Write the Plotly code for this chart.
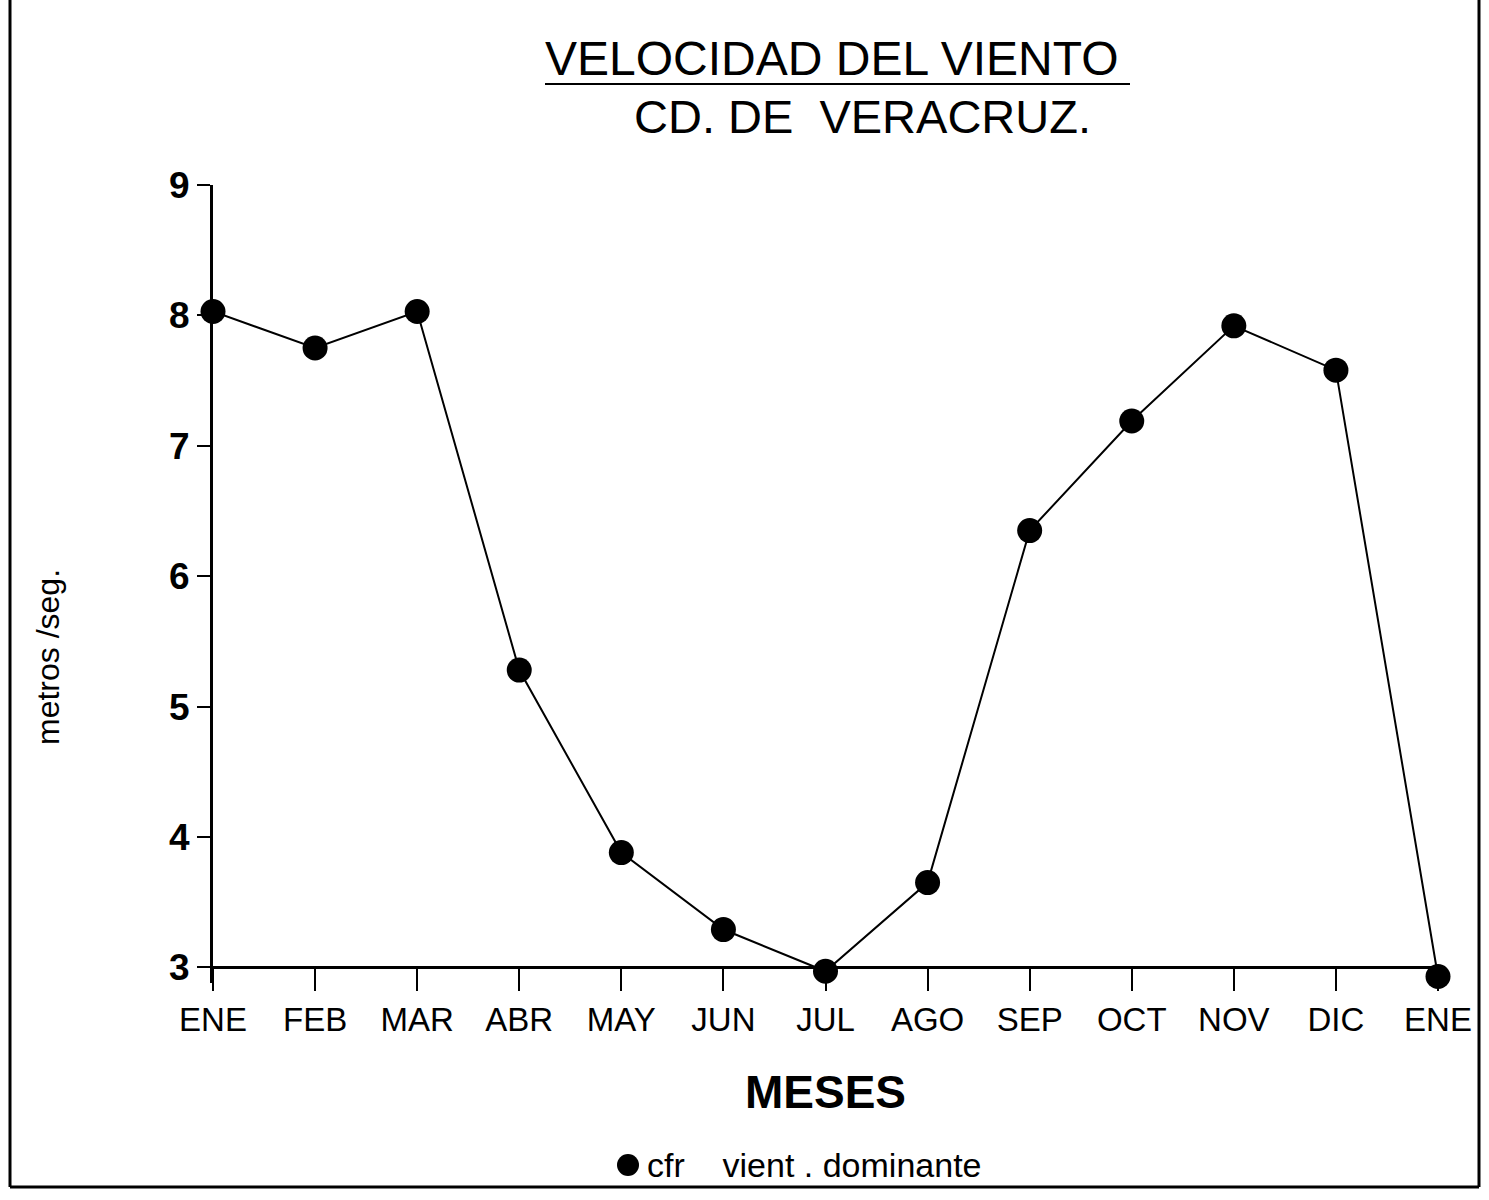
import plotly.graph_objects as go

# Monthly wind speed, Veracruz (m/s)
meses = ["ENE", "FEB", "MAR", "ABR", "MAY", "JUN", "JUL",
         "AGO", "SEP", "OCT", "NOV", "DIC", "ENE"]
velocidad = [8.03, 7.75, 8.03, 5.28, 3.88, 3.29, 2.97,
             3.65, 6.35, 7.19, 7.92, 7.58, 2.93]
y_ticks = [3, 4, 5, 6, 7, 8, 9]

x_pos = list(range(len(meses)))

SANS = "Liberation Sans, Arial, sans-serif"

# plot area geometry (pixels)
W, H = 1489, 1200
L, T, PW, PH = 213, 185, 1225, 798
Y_MIN, Y_MAX = 2.88, 9.0


def px(xp):
    return (xp - L) / PW


def py(yp):
    return (T + PH - yp) / PH


fig = go.Figure()

# connecting line
fig.add_trace(go.Scatter(
    x=x_pos, y=velocidad, mode="lines",
    line=dict(color="black", width=2),
    showlegend=False, hoverinfo="skip", cliponaxis=False,
))
# monthly points
fig.add_trace(go.Scatter(
    x=x_pos, y=velocidad, mode="markers",
    marker=dict(color="black", size=25),
    name="cfr vient. dominante", showlegend=False,
    cliponaxis=False,
))

fig.update_layout(
    width=W, height=H,
    margin=dict(l=L, r=W - L - PW, t=T, b=H - T - PH),
    paper_bgcolor="white", plot_bgcolor="white",
    showlegend=False,
    xaxis=dict(
        range=[0, 12],
        anchor="free", position=(3 - Y_MIN) / (Y_MAX - Y_MIN),
        tickmode="array", tickvals=x_pos, ticktext=meses,
        showline=True, linecolor="black", linewidth=3,
        ticks="outside", ticklen=22, tickwidth=2, tickcolor="black",
        tickfont=dict(family=SANS, size=33, color="black"),
        showgrid=False, zeroline=False,
        title=dict(text="<b>MESES</b>", standoff=38,
                   font=dict(family=SANS, size=46, color="black")),
    ),
    yaxis=dict(
        range=[Y_MIN, Y_MAX], domain=[0, 1],
        tickmode="array", tickvals=y_ticks,
        showline=True, linecolor="black", linewidth=3,
        ticks="outside", ticklen=13, tickwidth=2, tickcolor="black",
        tickfont=dict(family=SANS, size=37, color="black", weight="bold"),
        showgrid=False, zeroline=False,
    ),
)

# y-axis title
fig.add_annotation(
    text="metros /seg.", xref="paper", yref="paper",
    x=px(48), y=py(657), textangle=-90,
    xanchor="center", yanchor="middle", showarrow=False,
    font=dict(family=SANS, size=32, color="black"),
)

# title block
fig.add_annotation(
    text="VELOCIDAD DEL VIENTO", xref="paper", yref="paper",
    x=px(832), y=py(59),
    xanchor="center", yanchor="middle", showarrow=False,
    font=dict(family=SANS, size=48, color="black"),
)
fig.add_annotation(
    text="CD. DE\u00a0\u00a0VERACRUZ.", xref="paper", yref="paper",
    x=px(862), y=py(117),
    xanchor="center", yanchor="middle", showarrow=False,
    font=dict(family=SANS, size=47, color="black"),
)

# legend: filled dot and label
fig.add_shape(type="circle", xref="paper", yref="paper",
              x0=px(617), x1=px(639), y0=py(1154), y1=py(1176),
              fillcolor="black", line=dict(color="black", width=0))
fig.add_annotation(
    text="cfr\u00a0\u00a0\u00a0\u00a0vient\u00a0.\u00a0dominante",
    xref="paper", yref="paper",
    x=px(645), y=py(1165),
    xanchor="left", yanchor="middle", showarrow=False,
    font=dict(family=SANS, size=34, color="black"),
)


def px_line(x0, y0, x1, y1, w):
    fig.add_shape(type="line", xref="paper", yref="paper",
                  x0=px(x0), x1=px(x1), y0=py(y0), y1=py(y1),
                  line=dict(color="black", width=w))


# underline under the title and the page frame
px_line(545, 84, 1130, 84, 2)
px_line(10, 0, 10, 1187, 3)
px_line(10, 1187, 1479, 1187, 3)
px_line(1479, 0, 1479, 1187, 3)

fig.write_html("out.html")
